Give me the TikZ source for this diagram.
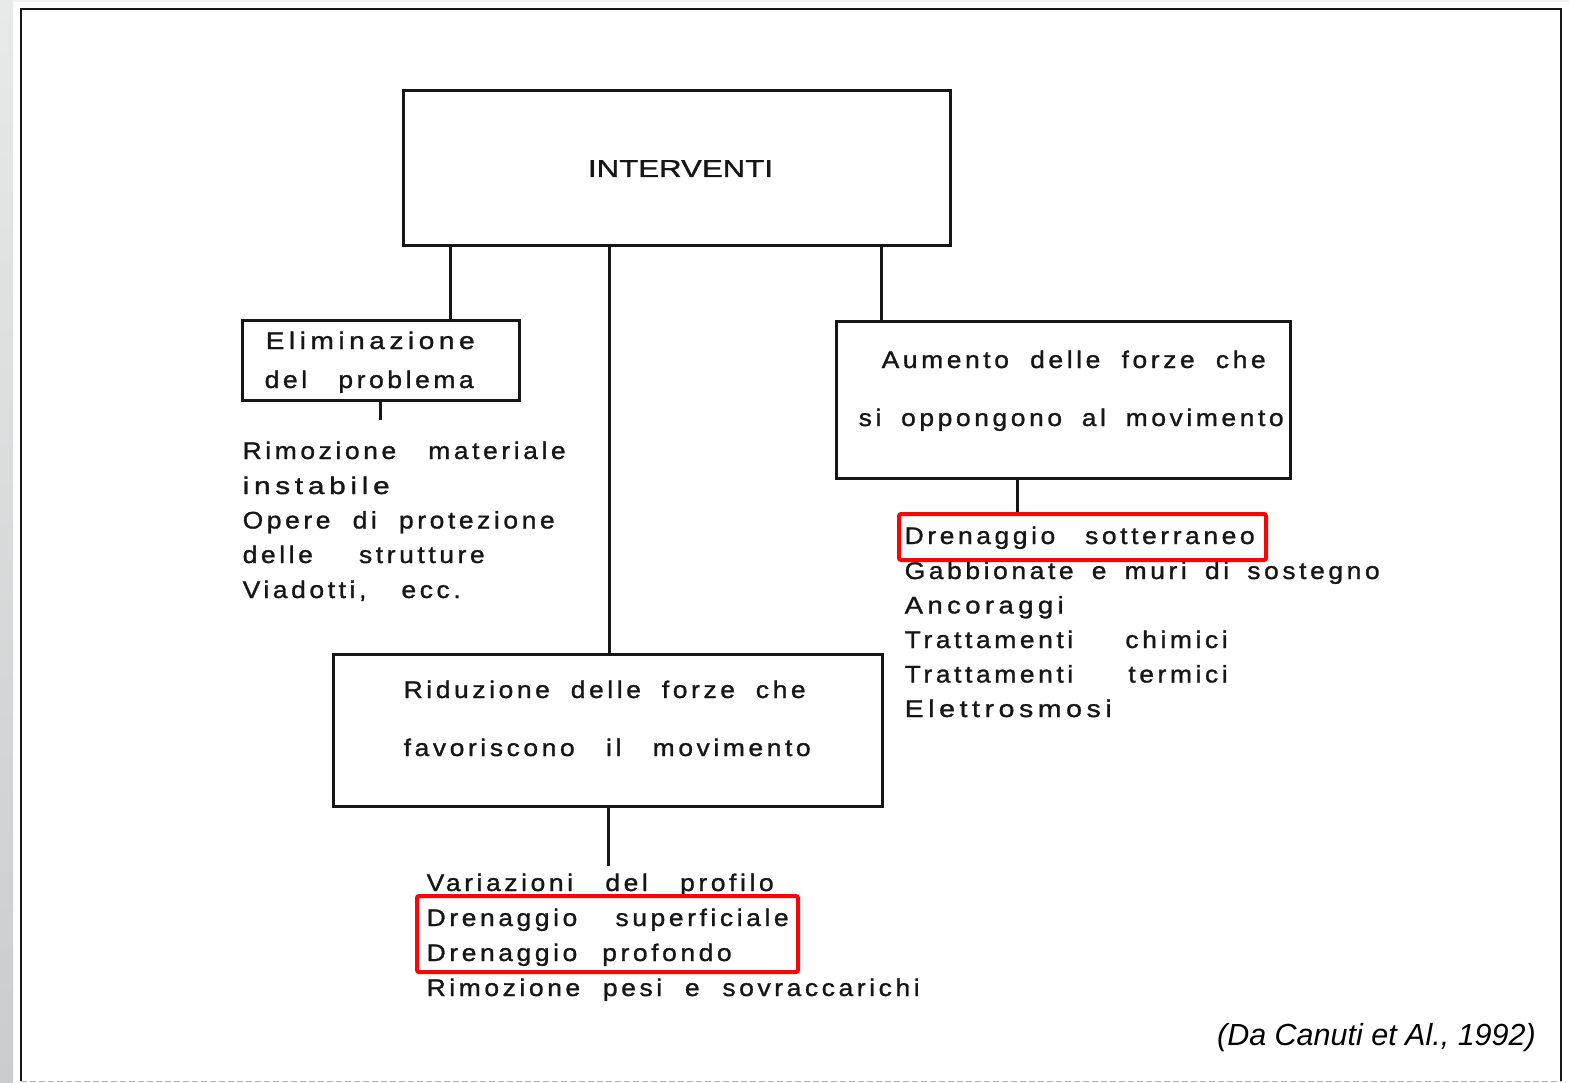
\documentclass[tikz,border=0pt]{standalone}
\usepackage{fontspec}
\usepackage{graphicx}
\setmainfont{Liberation Sans}
\newfontfamily\scanfont[LetterSpace=15,FakeStretch=1.1,FakeBold=1.2]{Liberation Sans}
\newfontfamily\scanwide[LetterSpace=18,FakeStretch=1.12,FakeBold=1.2]{Liberation Sans}
\newfontfamily\capfont[FakeBold=1.0]{Liberation Sans}
\newfontfamily\citefont{Liberation Sans}
\hbadness=10000
\hfuzz=200pt
\newcommand{\sline}[2]{\makebox[#1pt][s]{#2}}
\newcommand{\sword}[2]{\resizebox{#1pt}{\height}{\scanwide #2}}
\definecolor{ink}{HTML}{161616}
\definecolor{redmark}{HTML}{FA0505}
\definecolor{stripA}{HTML}{E8E9E9}
\definecolor{stripB}{HTML}{C9CDCD}
\tikzset{
  box/.style={draw=ink, line width=3pt, rectangle, inner sep=0pt},
  link/.style={draw=ink, line width=3pt},
  txt/.style={anchor=base west, inner sep=0pt, text=ink, font={\scanfont\fontsize{24pt}{24pt}\selectfont}},
  highlightbox/.style={draw=redmark, line width=4pt, rectangle, rounded corners=2pt, inner sep=0pt}
}
\begin{document}
\begin{tikzpicture}[x=1pt,y=-1pt]
\useasboundingbox (0,0) rectangle (1569,1083);
\fill[white] (0,0) rectangle (1569,1083);
\shade[top color=stripA, bottom color=stripB] (0,0) rectangle (13,1083);
\fill[stripA!60] (13,0) rectangle (1569,2);
% frame
\draw[ink, line width=2pt] (21,1081) -- (21,9.5) -- (1561,9.5) -- (1561,1081);
\draw[gray!60, line width=1pt, dash pattern=on 6pt off 3pt] (21,1081) -- (1561,1081);

% boxes
\node[box, minimum width=547pt, minimum height=155pt] (interv) at (676.5,168.5) {};
\node[box, minimum width=277pt, minimum height=79pt] (elim) at (380.5,360.5) {};
\node[box, minimum width=454pt, minimum height=156pt] (aum) at (1063,400) {};
\node[box, minimum width=549pt, minimum height=152pt] (rid) at (607.5,730) {};

% box texts
\node[anchor=base, inner sep=0pt, text=ink, font={\capfont\fontsize{24.5pt}{24.5pt}\selectfont}] (intT) at (680.5,177) {\resizebox{185pt}{\height}{INTERVENTI}};
\node[txt] (e1) at (265.5,349) {\sword{209}{Eliminazione}};
\node[txt] (e2) at (264.5,388) {\sline{209}{del problema}};
\node[txt] (a1) at (881.5,368) {\sline{384}{Aumento delle forze che}};
\node[txt] (a2) at (858.5,426) {\sline{425}{si oppongono al movimento}};
\node[txt] (d1) at (403.5,698) {\sline{402}{Riduzione delle forze che}};
\node[txt] (d2) at (403.5,756) {\sline{407}{favoriscono il movimento}};

% left list
\node[txt] (l1) at (242.5,459) {\sline{323}{Rimozione materiale}};
\node[txt] (l2) at (242.5,494) {\sword{147}{instabile}};
\node[txt] (l3) at (242.5,528.5) {\sline{312}{Opere di protezione}};
\node[txt] (l4) at (242.5,563) {\sline{242}{delle strutture}};
\node[txt] (l5) at (242.5,598) {\sline{218}{Viadotti, ecc.}};

% right list
\node[txt] (r1) at (904.5,544) {\sline{350}{Drenaggio sotterraneo}};
\node[txt] (r2) at (904.5,579) {\sline{475}{Gabbionate e muri di sostegno}};
\node[txt] (r3) at (904.5,613.5) {\sword{159}{Ancoraggi}};
\node[txt] (r4) at (904.5,648) {\sline{323}{Trattamenti chimici}};
\node[txt] (r5) at (904.5,682.5) {\sline{323}{Trattamenti termici}};
\node[txt] (r6) at (904.5,717) {\sword{207}{Elettrosmosi}};

% bottom list
\node[txt] (b1) at (426.5,891) {\sline{347}{Variazioni del profilo}};
\node[txt] (b2) at (426.5,926) {\sline{362}{Drenaggio superficiale}};
\node[txt] (b3) at (426.5,961) {\sline{305}{Drenaggio profondo}};
\node[txt] (b4) at (426.5,996) {\sline{493}{Rimozione pesi e sovraccarichi}};

% red highlight boxes
\node[highlightbox, minimum width=367pt, minimum height=46pt] (redR) at (1082.5,537) {};
\node[highlightbox, minimum width=381pt, minimum height=76pt] (redB) at (607.5,934) {};

% free ends
\coordinate (elimEnd) at (380,420);
\coordinate (ridEnd) at (608,866);

% connectors
\draw[link] (450,0 |- interv.south) -- (450,0 |- elim.north);
\draw[link] (609,0 |- interv.south) -- (609,0 |- rid.north);
\draw[link] (881,0 |- interv.south) -- (881,0 |- aum.north);
\draw[link] (380,0 |- elim.south) -- (elimEnd);
\draw[link] (1017,0 |- aum.south) -- (1017,0 |- redR.north);
\draw[link] (608,0 |- rid.south) -- (ridEnd);

% citation
\node[anchor=base east, inner sep=0pt, text=black, font={\citefont\itshape\fontsize{30.5pt}{30.5pt}\selectfont}] (cit) at (1536,1045) {(Da Canuti et Al., 1992)};
\end{tikzpicture}
\end{document}
